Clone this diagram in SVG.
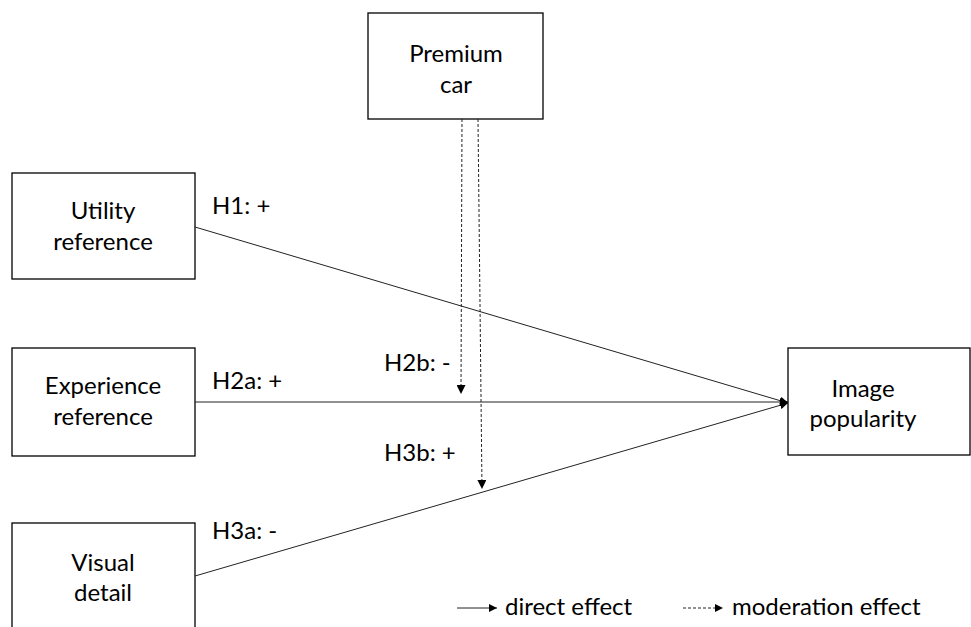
<svg xmlns="http://www.w3.org/2000/svg" width="971" height="627" viewBox="0 0 971 627">
<style>
.box{fill:#fff;stroke:#000;stroke-width:1.3}
.t{font-family:Lato,"Open Sans","Liberation Sans",sans-serif;font-size:24px;fill:#000}
.c{text-anchor:middle}
.ln{stroke:#222;stroke-width:1;fill:none}
.dash{stroke:#222;stroke-width:1;fill:none;stroke-dasharray:3 2}
</style>
<defs>
<marker id="ah" viewBox="0 0 10 10" refX="10" refY="5" markerWidth="8" markerHeight="8" markerUnits="userSpaceOnUse" orient="auto">
<path d="M0,0 L10,5 L0,10 z" fill="#000"/>
</marker>
<marker id="ahs" viewBox="0 0 10 10" refX="10" refY="5" markerWidth="9" markerHeight="9" markerUnits="userSpaceOnUse" orient="auto">
<path d="M0,0 L10,5 L0,10 z" fill="#000"/>
</marker>
</defs>
<g id="premium"><rect class="box" x="368" y="13" width="175" height="106"/><text class="t c" x="456" y="62">Premium</text><text class="t c" x="456" y="93">car</text></g>
<g id="utility"><rect class="box" x="12" y="173" width="183" height="106"/><text class="t c" x="103" y="219">Utility</text><text class="t c" x="103" y="250">reference</text></g>
<g id="experience"><rect class="box" x="12" y="348" width="183" height="108"/><text class="t c" x="103" y="394">Experience</text><text class="t c" x="103" y="425">reference</text></g>
<g id="visual"><rect class="box" x="12" y="523" width="183" height="110"/><text class="t c" x="103" y="571">Visual</text><text class="t c" x="103" y="601">detail</text></g>
<g id="image"><rect class="box" x="788" y="348" width="182" height="107"/><text class="t c" x="863" y="397">Image</text><text class="t c" x="863" y="427">popularity</text></g>
<g id="connectors">
<line class="ln" x1="195" y1="227" x2="788" y2="403" marker-end="url(#ah)"/>
<line class="ln" x1="195" y1="402" x2="788" y2="402" marker-end="url(#ah)"/>
<line class="ln" x1="195" y1="576" x2="788" y2="403" marker-end="url(#ah)"/>
<line class="dash" x1="462" y1="119" x2="461" y2="394" marker-end="url(#ahs)"/>
<line class="dash" x1="478" y1="119" x2="482" y2="489" marker-end="url(#ahs)"/>
</g>
<g id="labels">
<text class="t" x="212" y="214">H1: +</text>
<text class="t" x="212" y="389">H2a: +</text>
<text class="t" x="212" y="539">H3a: -</text>
<text class="t" x="384" y="371">H2b: -</text>
<text class="t" x="384" y="461">H3b: +</text>
</g>
<g id="legend">
<line class="ln" x1="457" y1="608" x2="497" y2="608" marker-end="url(#ah)"/>
<text class="t" x="505" y="615">direct effect</text>
<line class="dash" x1="683" y1="608" x2="723" y2="608" marker-end="url(#ah)"/>
<text class="t" x="732" y="615">moderation effect</text>
</g>
</svg>
